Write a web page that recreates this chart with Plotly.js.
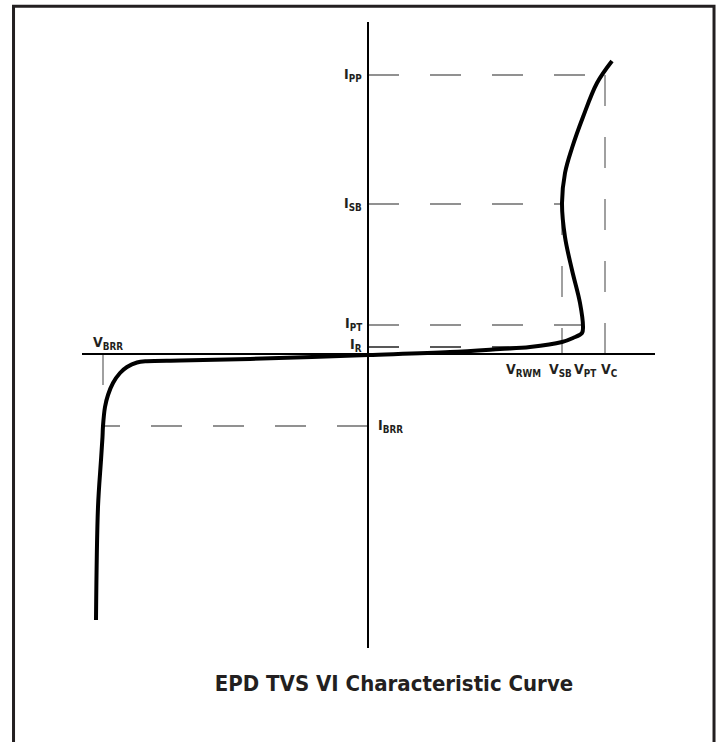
<!DOCTYPE html>
<html>
<head>
<meta charset="utf-8">
<script src="https://cdn.plot.ly/plotly-3.0.1.min.js"></script>
<style>
html,body{margin:0;padding:0;background:#fff;}
#chart{width:717px;height:742px;}
</style>
</head>
<body>
<div id="chart"></div>
<script>
// Characteristic levels (arbitrary units)
const V_BRR = -26.5, V_RWM = 15.5, V_SB = 19.4, V_PT = 21.5, V_C = 23.7;
const I_PP = 27.9, I_SB = 15.0, I_PT = 2.9, I_R = 0.7, I_BRR = -7.2;

// VI curve (voltage, current)
const curveV = [-27.2, -27.0, -26.7, -26.55, -26.5, -26.3, -26.0, -25.5, -24.8, -24.1, -23.1, -22.1, -18.8, -11.8, 0.0, 8.2, 13.2, 16.2, 19.4, 20.5, 21.4, 21.5, 21.2, 20.4, 19.7, 19.4, 19.7, 20.4, 21.5, 22.9, 24.4];
const curveI = [-26.6, -15.3, -10.6, -8.3, -7.2, -5.3, -4.1, -2.9, -1.9, -1.3, -0.85, -0.72, -0.65, -0.5, -0.1, 0.2, 0.5, 0.7, 1.2, 1.6, 2.1, 2.7, 5.1, 8.4, 11.7, 15.1, 18.1, 20.6, 23.7, 27.1, 29.3];

const TITLE = 'EPD TVS VI Characteristic Curve';
const FONT = 'DejaVu Sans Condensed, Liberation Sans Narrow, sans-serif';
const INK = '#231f20';

const dashGrey = {color: '#6e6e6e', width: 1.3, dash: '31px,31px'};
const dashDark = {color: '#222', width: 1.3, dash: '31px,31px'};

function seg(x0, y0, x1, y1, line) {
  return {type: 'line', xref: 'x', yref: 'y', x0: x0, y0: y0, x1: x1, y1: y1, line: line, layer: 'below'};
}

const shapes = [
  seg(0, I_PP, V_C, I_PP, dashGrey),
  seg(V_C, I_PP, V_C, 0, dashGrey),
  seg(0, I_SB, V_SB, I_SB, dashGrey),
  seg(V_SB, I_SB, V_SB, 0, dashGrey),
  seg(0, I_PT, V_PT, I_PT, dashGrey),
  seg(0, I_R, V_RWM, I_R, dashDark),
  seg(0, I_BRR, V_BRR, I_BRR, dashGrey),
  seg(V_BRR, 0, V_BRR, I_BRR, dashGrey),
  // frame
  {type: 'rect', xref: 'paper', yref: 'paper', x0: -0.1195, x1: 1.103, y0: -0.2, y1: 1.0251,
   line: {color: INK, width: 3}, fillcolor: 'rgba(0,0,0,0)'}
];

function lab(x, y, txt, opt) {
  return Object.assign({x: x, y: y, xref: 'x', yref: 'y', text: '<b>' + txt + '</b>', showarrow: false,
    font: {family: FONT, size: 14, color: INK}}, opt);
}

const annotations = [
  lab(0, I_PP, 'I<sub>PP</sub>', {xanchor: 'right', yanchor: 'middle', xshift: -4}),
  lab(0, I_SB, 'I<sub>SB</sub>', {xanchor: 'right', yanchor: 'middle', xshift: -4}),
  lab(0, I_PT, 'I<sub>PT</sub>', {xanchor: 'right', yanchor: 'middle', xshift: -4, yshift: 1}),
  lab(0, I_R, 'I<sub>R</sub>', {xanchor: 'right', yanchor: 'middle', xshift: -4, yshift: 2}),
  lab(0, I_BRR, 'I<sub>BRR</sub>', {xanchor: 'left', yanchor: 'middle', xshift: 8}),
  lab(V_BRR, 0, 'V<sub>BRR</sub>', {xanchor: 'left', yanchor: 'middle', xshift: -12, yshift: 11}),
  lab(V_RWM, 0, 'V<sub>RWM</sub>', {xanchor: 'center', yanchor: 'middle', yshift: -16}),
  lab(V_SB, 0, 'V<sub>SB</sub>', {xanchor: 'center', yanchor: 'middle', xshift: -2, yshift: -16}),
  lab(V_PT, 0, 'V<sub>PT</sub>', {xanchor: 'center', yanchor: 'middle', xshift: 2, yshift: -16}),
  lab(V_C, 0, 'V<sub>C</sub>', {xanchor: 'center', yanchor: 'middle', xshift: 4, yshift: -16})
];

const trace = {
  x: curveV, y: curveI, type: 'scatter', mode: 'lines',
  line: {color: '#000', width: 4, shape: 'spline', smoothing: 1},
  hoverinfo: 'skip', showlegend: false
};

const layout = {
  width: 717, height: 742,
  margin: {l: 82, r: 62, t: 22, b: 94, pad: 0},
  paper_bgcolor: '#fff', plot_bgcolor: '#fff',
  showlegend: false,
  title: {text: '<b>' + TITLE + '</b>', font: {family: FONT, size: 22, color: INK},
          x: 0.5495, xanchor: 'center', y: 0.0795, yanchor: 'middle', xref: 'container', yref: 'container'},
  xaxis: {range: [-28.6, 28.7], showgrid: false, showticklabels: false, ticks: '', showline: false,
          zeroline: true, zerolinecolor: '#000', zerolinewidth: 1.5, fixedrange: true},
  yaxis: {range: [-29.4, 33.2], showgrid: false, showticklabels: false, ticks: '', showline: false,
          zeroline: true, zerolinecolor: '#000', zerolinewidth: 1.5, fixedrange: true},
  shapes: shapes,
  annotations: annotations
};

Plotly.newPlot('chart', [trace], layout, {staticPlot: true, displayModeBar: false});
</script>
</body>
</html>
